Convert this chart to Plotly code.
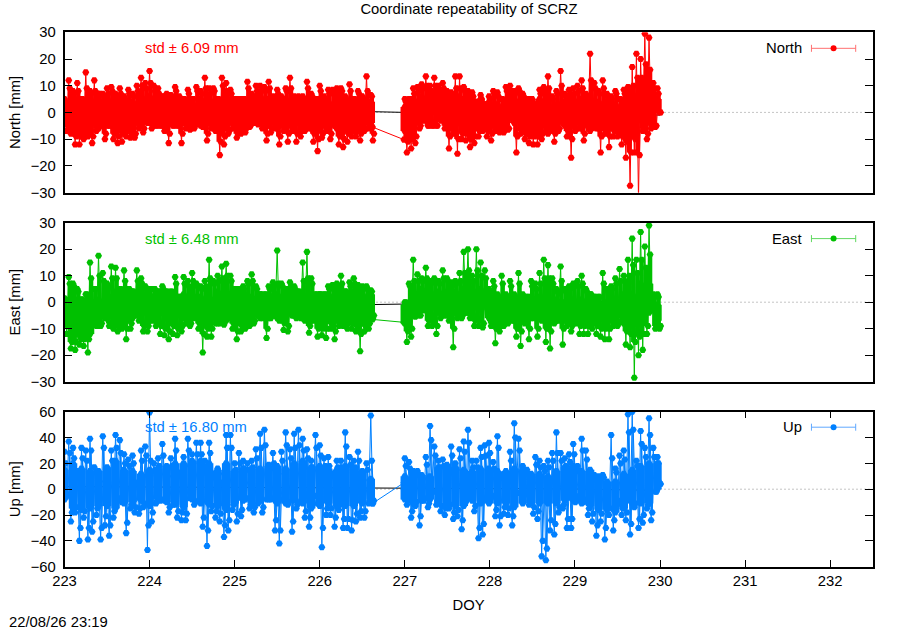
import plotly.graph_objects as go

TITLE = "Coordinate repeatability of SCRZ"
STAMP = "22/08/26 23:19"
PANELS = ["North", "East", "Up"]
YTITLES = ["North [mm]", "East [mm]", "Up [mm]"]
STD_TEXT = ["std ± 6.09 mm", "std ± 6.48 mm", "std ± 16.80 mm"]
COLORS = ["#ff0000", "#00c000", "#0080ff"]
LEGEND_LINE = ["#ff7070", "#60d860", "#60a8ff"]
X_TICKS = [223, 224, 225, 226, 227, 228, 229, 230, 231, 232]

STEP_A = 0.05
STEP_B = 0.0495
DAY_A = 223.0
DAY_B = 227.0

# North: per-epoch group extremes before and after the data gap
n_hi_a = [5,12,8,11,5,15,8,12,7,7,9,9.5,7,9,6,8.5,7,10,13,11,15.5,10,9,6,3,6.5,9.5,6,5,8.5,5,9.5,8,13,9,9,5,13,11,8.5,5,5,5,11.5,7,10,10,9.5,11.5,6,8.5,6,9,13,6,6,6,11.5,7,5,10,6,8.5,8.5,9,9,6,10.5,5,8,6,13.5,6.5]
n_lo_a = [-7,-8,-12,-12,-10,-9,-11.5,-7,-5,-10,-5,-10,-11.5,-11,-9,-9.5,-9.5,-6,-7.5,-4,-6,-5,-5,-7,-11.5,-5,-5,-11.5,-6,-6.5,-6,-4,-5.5,-10.5,-6,-7,-16,-12,-8,-6,-9.5,-8,-7.5,-5.5,-4,-4.5,-6,-10.5,-7.5,-6,-12,-7,-11,-7,-11,-9,-7,-6,-11,-14.5,-9.5,-7,-10,-5,-12,-13,-11,-9,-9,-10.5,-7,-6,-10.5]
n_hi_b = [5,5,9,9.5,10.5,13.5,10,13,10,11,7,7.5,13.5,13.5,9.5,8,7.5,4,6.5,3,6,8,7.5,5,9.5,10,8,9,7,5,5,3,8.5,9.5,13.5,6,8,15.5,7,8.5,9,10,12,7,22,11,8,12,7,6,8,5,8.5,9.5,17,22,20,29.5,28,11,9]
n_lo_b = [-15,-13.5,-11.5,-6,-3,-5,-5,-5,-3,-6,-13.5,-8,-15.5,-10,-10.5,-13,-11.5,-9,-7,-9,-10.5,-7,-7.5,-7.5,-6.5,-2,-15,-8,-10,-11.5,-12,-12,-10,-7,-6,-11,-7,-4,-9,-17,-7,-6,-10.5,-5,-5,-6,-15,-8,-13,-9,-9,-12,-17,-27.5,-15,-33,-7,-10,-6,-5.5,0]
n_mid_hi_a = [4,9,7,8,5,9,7,8,7,6,7,8,6,7,5,7,6,8,10,9,11,8,7,5,3,6,8,5,5,7,5,8,7,9,7,8,5,10,8,7,5,5,5,9,6,8,8,8,9,5,7,5,8,9,5,5,5,9,6,5,8,5,7,7,8,8,5,8,5,7,5,8,6]
n_mid_lo_a = [-5,-7,-9,-9,-8,-7,-9,-6,-5,-8,-5,-8,-9,-8,-7,-8,-8,-5,-6,-4,-5,-5,-5,-6,-8,-5,-5,-8,-5,-6,-5,-4,-5,-8,-5,-6,-11,-9,-7,-5,-8,-7,-6,-5,-4,-4,-5,-8,-6,-5,-9,-6,-8,-6,-8,-7,-6,-5,-8,-10,-8,-6,-8,-5,-9,-10,-8,-7,-7,-8,-6,-5,-8]
n_mid_hi_b = [4,5,7,8,9,10,8,10,8,9,6,6,9,9,8,7,6,4,5,3,5,7,6,5,8,8,7,8,6,5,5,3,7,8,9,5,7,10,6,7,7,8,9,6,12,9,7,9,6,5,7,5,7,8,10,13,13,18,16,9,7]
n_mid_lo_b = [-11,-10,-9,-5,-3,-5,-5,-5,-3,-5,-9,-7,-10,-8,-8,-10,-9,-7,-6,-7,-8,-6,-6,-6,-6,-2,-9,-7,-8,-9,-9,-9,-8,-6,-5,-8,-6,-4,-7,-10,-6,-5,-8,-5,-5,-5,-9,-7,-9,-7,-7,-9,-11,-15,-10,-16,-6,-8,-5,-5,0]
n_in_top_a = [3,6,4,5,5,5,5,5,4,6,6,7,7,5,4,3,5,5,4,6,5,5,5,6,5,6,5,5,5,4,5,4,6,5,5,4,4]
n_in_bot_a = [-3,-7,-7,-5,-6,-5,-6,-7,-6,-4,-3,-3,-4,-4,-4,-5,-5,-4,-5,-5,-5,-5,-4,-4,-5,-6,-6,-5,-6,-6,-6,-7,-6,-6,-7,-6,-4]
n_in_top_b = [2,5,6,8,9,8,7,5,5,5,4,3,4,5,6,5,5,3,3,4,5,5,5,4,4,3,4,7,12,8,5]
n_in_bot_b = [-7,-6,-3,-1,-2,-3,-5,-6,-7,-6,-5,-6,-5,-4,-6,-7,-7,-8,-7,-5,-5,-6,-7,-6,-6,-7,-9,-7,-3,-1,1]
n_bridge = [-5.5, -10.2]
n_mean = [0.5, 0.7, 0.7, 0.7, 0.0, -0.3, -0.6, -1.0]

# East
e_hi_a = [1.5,9.5,7,5,1,3,15,5,17.5,11,7,13.5,13,5,12,5,4,12,9,6,5,5,4,6,4,4,9.5,2,9.5,8,11,7,6,8,16,8,10,13.5,14.5,10,5,5,6,8,10.5,6,3,3,6,7.5,19.5,7,5,7.5,6,4,15,19,9,3,3,3,6,6.5,7,10,4,7.5,9,6.5,6,6,4.5]
e_lo_a = [-12,-17.5,-18,-16,-16.5,-19,-8,-9,-9,-6,-9,-10,-11,-10,-14,-10,-5,-7,-11,-11,-7,-9,-12,-12.5,-14,-12,-12.5,-11,-8,-9,-6,-10,-19,-13,-13,-8,-8,-8.5,-6,-10,-14,-11,-10,-9,-8,-5,-6,-13.5,-6,-5,-7,-10.5,-11,-5,-6,-6,-7,-11.5,-7,-13,-12.5,-13.5,-10,-14,-9,-9,-10,-10,-11,-18.5,-11,-10,-6]
e_hi_b = [0,7,16,10.5,9,13,8,9,8,12,9,7.5,8,11,19,20,10,20,15,12,5,8,3,10,3,8,3,11,3,2,8,7,11,16,14,9,5,13.5,5,6,7,8,10,5,3,2,2,11,5,6,9,12.5,10,16,24,16,26.5,21,29,3,3]
e_lo_b = [-15,-13,-5.5,-5,-3,-9,-9,-12,-6,-5,-7,-17,-6,-6,-4,-6,-9,-9,-9.5,-1,-9,-15.5,-11,-9,-8,-7,-13,-16.5,-8,-14,-6,-13,-7,-15,-17.5,-8,-7,-16,-9,-11,-8,-12,-12,-12,-10,-12,-13,-14,-14,-9,-9,-7,-16,-17,-28.5,-20,-18,-12,-3,-10,-10]
e_mid_hi_a = [1,7,6,4,1,3,9,5,10,8,6,9,9,5,8,5,4,8,7,5,5,5,4,5,4,4,7,2,7,6,8,6,5,6,9,7,8,9,10,8,5,5,5,7,8,5,3,3,5,6,7,6,5,6,5,4,8,9,7,3,3,3,5,5,6,7,4,6,7,5,5,5,4]
e_mid_lo_a = [-9,-15,-15,-13,-14,-14,-7,-8,-8,-6,-8,-9,-9,-8,-10,-8,-5,-6,-9,-9,-6,-8,-9,-10,-11,-9,-10,-9,-7,-8,-5,-8,-12,-10,-10,-7,-7,-7,-5,-8,-11,-9,-8,-8,-7,-5,-5,-10,-5,-5,-6,-8,-9,-5,-5,-5,-6,-9,-6,-10,-10,-10,-8,-11,-8,-8,-8,-8,-9,-12,-9,-8,-5]
e_mid_hi_b = [0,6,8,8,8,9,7,8,7,9,8,6,7,8,11,12,8,12,10,9,4,6,2,7,2,6,2,7,2,2,6,5,7,9,9,7,4,8,4,5,6,6,7,4,3,2,2,7,4,5,7,8,8,10,14,11,16,13,18,2,2]
e_mid_lo_b = [-11,-10,-5,-5,-3,-7,-7,-9,-5,-5,-6,-10,-5,-5,-4,-5,-7,-7,-8,-1,-8,-10,-9,-8,-7,-6,-10,-11,-7,-10,-5,-10,-6,-10,-11,-7,-6,-10,-8,-9,-7,-9,-9,-9,-8,-9,-10,-10,-10,-8,-8,-6,-11,-12,-15,-13,-12,-9,-3,-9,-9]
e_in_top_a = [-2,2,1,1,1,3,4,4,4,4,3,4,3,3,3,3,2,2,4,4,5,4,2,3,3,3,4,3,3,3,3,3,4,4,4,3,3]
e_in_bot_a = [-8,-13,-14,-12,-9,-6,-7,-7,-6,-5,-7,-5,-6,-6,-6,-6,-7,-8,-8,-7,-7,-7,-7,-6,-6,-6,-5,-5,-6,-7,-8,-7,-7,-8,-8,-8,-5]
e_in_top_b = [-1,4,5,4,4,4,4,5,5,5,2,1,1,1,1,2,2,1,1,0,1,1,1,0,0,1,3,3,7,7,-1]
e_in_bot_b = [-8,-5,-3,-3,-4,-4,-4,-3,-3,-3,-6,-7,-7,-7,-7,-6,-6,-7,-7,-7,-7,-8,-7,-7,-7,-8,-8,-9,-8,-4,-7]
e_bridge = [-6.5, -7.6]
e_mean = [-1.5, -1.4, -1.3, -1.2, -0.7, 0.5, 0.7, -0.4]

# Up
u_hi_a = [29,37,32,14,32,30,39,17,7,41,5,30,42,38,27,23,26,5,30,33,59.5,20,24,35,13,24,39,13,25,39,27,36,36,22,36,12,16,5,42,42,20,28,22,20,22,31,43,46,19,28,15,29,44,31,43,46,39,31,22,42,34,24,25,12,22,22,44,25,22,29,8,20,57]
u_lo_a = [-5,-25,-18,-40,-22,-39,-33,-20,-39,-28,-36,-22,-8,-10,-34,-15,-18,-19,-14,-47,-25,-11,-9,-9,-18,-12,-22,-24,-24,-7,-12,-9,-29,-44,-17,-22,-25,-37,-32,-16,-25,-21,-8,-15,-18,-11,-18,-8,-8,-32,-42,-8,-12,-33,-15,-10,-22,-29,-6,-11,-45,-20,-20,-29,-16,-30,-30,-32,-25,-22,-22,-11,-11]
u_hi_b = [24,21,13,14,10,25,49,33,22,23,15,33,20,31,37,46,22,22,32,34,36,21,41,11,7,29,51,39,18,15,11,25,22,18,22,28,44,28,24,27,35,18,39,30,10,11,10,11,4,42,16,26,30,58,60,22,45,32,55,32,25]
u_lo_b = [-12,-22,-13,-28,-9,-14,-2,-12,-17,-20,-15,-23,-21,-31,-10,-5,-17,-38,-35,-7,-7,-21,-28,-19,-20,-28,-3,-3,-4,-12,-19,-23,-52,-55,-32,-35,-18,-15,-30,-30,-10,-5,-10,-20,-25,-36,-25,-39,-20,-32,-12,-20,-24,-35,-14,-30,-26,-15,-24,-2,5]
u_mid_hi_a = [20,28,24,10,24,22,30,13,6,32,5,22,32,28,20,18,20,5,22,26,22,15,18,26,10,18,30,10,18,30,20,27,27,17,28,9,12,5,32,32,15,20,16,15,17,24,32,34,15,20,12,22,34,24,32,34,30,24,17,32,26,18,18,10,17,17,33,19,17,22,7,15,22]
u_mid_lo_a = [-4,-18,-14,-30,-17,-30,-25,-15,-30,-21,-28,-17,-7,-8,-26,-12,-14,-15,-11,-28,-18,-9,-8,-8,-14,-10,-17,-18,-19,-6,-10,-8,-22,-32,-13,-17,-19,-28,-24,-12,-19,-16,-7,-12,-14,-9,-14,-7,-7,-24,-32,-7,-10,-25,-12,-8,-17,-22,-5,-9,-30,-15,-15,-22,-12,-23,-23,-24,-19,-17,-17,-9,-9]
u_mid_hi_b = [18,16,10,11,8,19,38,26,17,18,12,26,15,24,29,36,17,17,25,26,28,16,32,9,6,22,40,30,14,12,9,19,17,14,17,22,28,22,18,21,27,14,30,23,8,9,8,9,3,24,13,20,23,44,46,18,35,25,42,25,20]
u_mid_lo_b = [-9,-17,-10,-21,-7,-11,-2,-9,-13,-15,-12,-18,-16,-24,-8,-4,-13,-30,-27,-5,-5,-16,-21,-14,-15,-21,-3,-3,-3,-9,-14,-17,-40,-46,-24,-27,-14,-12,-23,-23,-8,-4,-8,-15,-19,-28,-19,-30,-15,-24,-9,-15,-18,-27,-11,-23,-20,-12,-18,-2,4]
u_in_top_a = [15,20,16,14,14,17,22,15,14,12,15,16,18,20,20,22,22,20,15,20,14,16,16,16,18,18,16,20,22,17,18,16,15,18,16,14,8]
u_in_bot_a = [-8,-15,-16,-15,-13,-13,-15,-11,-10,-9,-13,-8,-10,-12,-14,-8,-11,-12,-13,-16,-11,-9,-11,-9,-8,-11,-11,-9,-11,-15,-13,-11,-13,-13,-13,-11,-8]
u_in_top_b = [10,14,11,10,17,19,17,15,14,16,16,14,14,16,15,12,12,10,14,17,18,14,15,8,6,6,12,15,18,20,20]
u_in_bot_b = [-8,-11,-9,-8,-11,-13,-13,-13,-9,-11,-11,-11,-11,-14,-11,-11,-11,-11,-11,-9,-9,-11,-13,-16,-16,-18,-15,-11,-11,-11,0]
u_bridge = [-11, 5]
u_mean = [2.0, 1.8, 1.6, 1.4, 0.8, 0.5, 0.2, -1.0]

MEAN_DOY = [223, 224, 225, 226, 227, 228, 229, 230]
GAP_DOY = [226.62, 226.99]
Y_RANGES = [[-30, 30], [-30, 30], [-60, 60]]
Y_TICKS = [[-30,-20,-10,0,10,20,30], [-30,-20,-10,0,10,20,30], [-60,-40,-20,0,20,40,60]]
STD_Y = [24, 24, 48]
LEG_X = 232.04
LEG_HALF = 0.26
LEG_Y = [24, 24, 48]
LEG_LABEL_X = 231.68
MID_BAR = [4.4, 4.4, 0]
CORE_BAR = [8.5, 8.5, 8.5]

SETS = [
    dict(hi_a=n_hi_a, lo_a=n_lo_a, hi_b=n_hi_b, lo_b=n_lo_b,
         mh_a=n_mid_hi_a, ml_a=n_mid_lo_a, mh_b=n_mid_hi_b, ml_b=n_mid_lo_b,
         ta=n_in_top_a, ba=n_in_bot_a, tb=n_in_top_b, bb=n_in_bot_b, bridge=n_bridge, mean=n_mean),
    dict(hi_a=e_hi_a, lo_a=e_lo_a, hi_b=e_hi_b, lo_b=e_lo_b,
         mh_a=e_mid_hi_a, ml_a=e_mid_lo_a, mh_b=e_mid_hi_b, ml_b=e_mid_lo_b,
         ta=e_in_top_a, ba=e_in_bot_a, tb=e_in_top_b, bb=e_in_bot_b, bridge=e_bridge, mean=e_mean),
    dict(hi_a=u_hi_a, lo_a=u_lo_a, hi_b=u_hi_b, lo_b=u_lo_b,
         mh_a=u_mid_hi_a, ml_a=u_mid_lo_a, mh_b=u_mid_hi_b, ml_b=u_mid_lo_b,
         ta=u_in_top_a, ba=u_in_bot_a, tb=u_in_top_b, bb=u_in_bot_b, bridge=u_bridge, mean=u_mean),
]

W, H = 900, 630
X_L, X_R = 64.5, 872.7
BOXES = [(32.3, 192.5), (222.7, 381.7), (411.7, 566.7)]
FS = 14.8
MARK = dict(symbol="hexagon2", size=7, line=dict(width=0))

fig = go.Figure()


def weave(day, step, hi, lo, shift=0.0):
    """Time-ordered epochs: each group's high and low values in turn."""
    assert len(hi) == len(lo), (len(hi), len(lo))
    xs, ys = [], []
    for k, (a, b) in enumerate(zip(hi, lo)):
        xs += [day + (k + shift) * step, day + (k + shift + 0.5) * step]
        ys += [a, b]
    return xs, ys


def spans(ys):
    """Drop from each group's high sample to its low sample."""
    out = []
    for k in range(0, len(ys), 2):
        out += [ys[k] - ys[k + 1], 0]
    return out


for i, s in enumerate(SETS):
    ax = "x" if i == 0 else f"x{i+1}"
    ay = "y" if i == 0 else f"y{i+1}"
    c = COLORS[i]
    fig.add_trace(go.Scatter(x=MEAN_DOY, y=s["mean"], mode="lines", xaxis=ax, yaxis=ay,
                             line=dict(color="#000000", width=1), showlegend=False))
    # Densest middle of the scatter
    core_x = [DAY_A + 2 * k * STEP_A for k in range(len(s["ta"]))] + [DAY_B + 2 * k * STEP_B for k in range(len(s["tb"]))]
    top = s["ta"] + s["tb"]
    bot = s["ba"] + s["bb"]
    assert len(core_x) == len(top) == len(bot)
    fig.add_trace(go.Scatter(
        x=core_x + core_x, y=bot + top, mode="markers", xaxis=ax, yaxis=ay, showlegend=False,
        marker=dict(color=c, **MARK),
        error_y=dict(type="data", symmetric=False,
                     array=[t - b for t, b in zip(top, bot)] + [0] * len(top),
                     arrayminus=[0] * (2 * len(top)),
                     color=c, thickness=CORE_BAR[i], width=0)))
    # Intermediate samples, one trace per observing arc
    for day, step, mh, ml in ((DAY_A, STEP_A, s["mh_a"], s["ml_a"]), (DAY_B, STEP_B, s["mh_b"], s["ml_b"])):
        mx, my = weave(day, step, mh, ml, 0.25)
        kw = {}
        if MID_BAR[i] > 0:
            kw["error_y"] = dict(type="data", symmetric=False, array=[0] * len(my), arrayminus=spans(my),
                                 color=c, thickness=MID_BAR[i], width=0)
        fig.add_trace(go.Scatter(x=mx, y=my, mode="lines+markers", xaxis=ax, yaxis=ay, showlegend=False,
                                 line=dict(color=c, width=1), marker=dict(color=c, **MARK), **kw))
    xa, ya = weave(DAY_A, STEP_A, s["hi_a"], s["lo_a"])
    xb, yb = weave(DAY_B, STEP_B, s["hi_b"], s["lo_b"])
    fig.add_trace(go.Scatter(
        x=xa + GAP_DOY + xb, y=ya + s["bridge"] + yb, mode="lines+markers", name=PANELS[i],
        xaxis=ax, yaxis=ay, showlegend=False,
        line=dict(color=c, width=1),
        marker=dict(color=c, **MARK)))
    fig.add_trace(go.Scatter(
        x=[LEG_X], y=[LEG_Y[i]], mode="markers", xaxis=ax, yaxis=ay, showlegend=False,
        marker=dict(symbol="circle", size=6, color=c),
        error_x=dict(type="constant", value=LEG_HALF, color=LEGEND_LINE[i], thickness=1, width=3.5)))

layout = dict(
    width=W, height=H, margin=dict(l=0, r=0, t=0, b=0, autoexpand=False),
    paper_bgcolor="white", plot_bgcolor="white", showlegend=False,
    font=dict(family="Liberation Sans", size=FS, color="#000000"),
    title=dict(text=TITLE, x=469 / W, xanchor="center", y=1 - 9 / H, yanchor="middle",
               font=dict(size=FS)),
)
annotations = []
shapes = []
for i, (top, bot) in enumerate(BOXES):
    sfx = "" if i == 0 else str(i + 1)
    last = i == 2
    layout["xaxis" + sfx] = dict(
        domain=[X_L / W, X_R / W], range=[223, 232.5], anchor="y" + sfx, automargin=False,
        showgrid=False, zeroline=False, showline=True, linecolor="black", linewidth=1.5,
        mirror="ticks" if last else True,
        ticks="inside" if last else "", ticklen=7, tickwidth=1, tickcolor="black",
        tickvals=X_TICKS, showticklabels=last,
        title=dict(text="DOY", standoff=11, font=dict(size=FS)) if last else None,
    )
    layout["yaxis" + sfx] = dict(
        domain=[1 - bot / H, 1 - top / H], range=Y_RANGES[i], anchor="x" + sfx, automargin=False,
        showgrid=False, zeroline=False, showline=True, linecolor="black", linewidth=1.5,
        mirror="ticks", ticks="inside", ticklen=8, tickwidth=1, tickcolor="black",
        tickvals=Y_TICKS[i], ticklabelstandoff=4,
        title=dict(text=YTITLES[i], standoff=6, font=dict(size=FS)),
    )
    xr = "x" + sfx
    yr = "y" + sfx
    shapes.append(dict(type="line", xref=xr, yref=yr, x0=223, x1=232.5, y0=0, y1=0, layer="below",
                       line=dict(color="#888888", width=1, dash="1px,3px")))
    annotations.append(dict(x=223.94, y=STD_Y[i], xref=xr, yref=yr, text=STD_TEXT[i], showarrow=False,
                            xanchor="left", yanchor="middle", borderpad=0,
                            font=dict(color=COLORS[i], size=FS)))
    annotations.append(dict(x=LEG_LABEL_X, y=LEG_Y[i], xref=xr, yref=yr, text=PANELS[i], showarrow=False,
                            xanchor="right", yanchor="middle", borderpad=0))
annotations.append(dict(x=8 / W, y=1 - 622 / H, xref="paper", yref="paper", text=STAMP, showarrow=False,
                        xanchor="left", yanchor="middle", borderpad=0))
layout["annotations"] = annotations
layout["shapes"] = shapes
fig.update_layout(**layout)
fig.write_html("out.html", config={"displayModeBar": False},
               post_script="document.body.style.margin='0';")
